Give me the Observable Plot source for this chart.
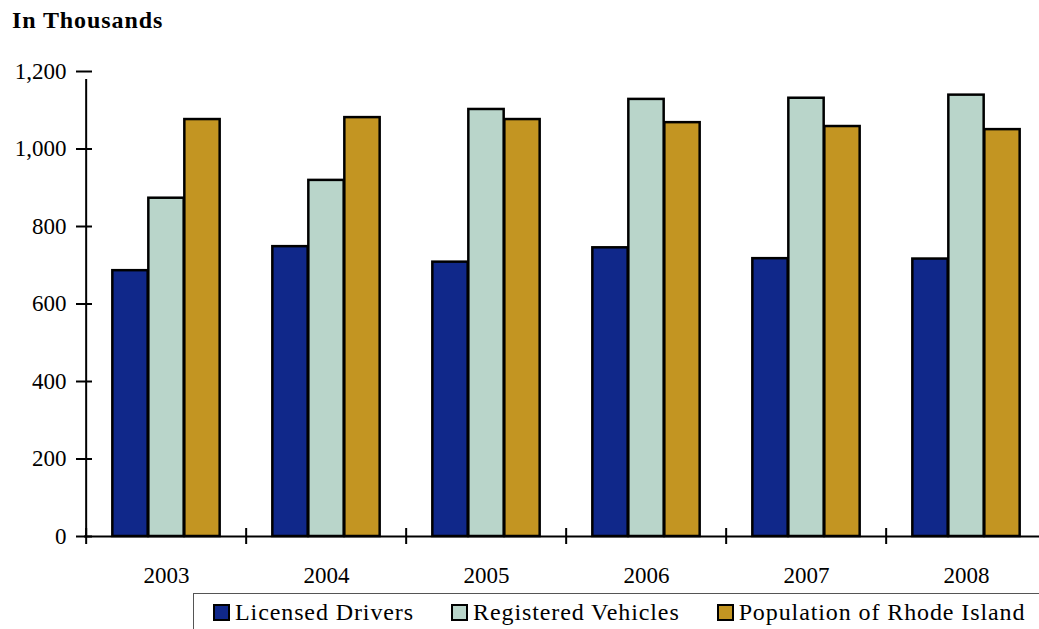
<!DOCTYPE html>
<html>
<head>
<meta charset="utf-8">
<script src="https://cdn.jsdelivr.net/npm/d3@7"></script>
<script src="https://cdn.jsdelivr.net/npm/@observablehq/plot@0.6"></script>
<style>
  html, body { margin: 0; padding: 0; background: #fff; overflow: hidden; width: 1039px; height: 629px; }
  #wrap { position: relative; width: 1039px; height: 629px; overflow: hidden; font-family: "Liberation Serif", serif; }
  #title { position: absolute; left: 12px; top: 7px; font-weight: bold; font-size: 24px; letter-spacing: 0.9px; color: #000; }
  #chart { position: absolute; left: 0; top: 0; width: 1060px; }
  #chart svg { max-width: none !important; }
  #legend { position: absolute; left: 193px; top: 593px; width: 900px; height: 50px; border: 1px solid #555; box-sizing: border-box; display: flex; align-items: flex-start; padding-top: 5px; padding-left: 19px; font-size: 24px; letter-spacing: 0.9px; }
  .item { display: flex; align-items: center; margin-right: 37px; white-space: nowrap; }
  .sw { width: 17px; height: 17px; border: 2.5px solid #000; margin-right: 5px; box-sizing: border-box; }
</style>
</head>
<body>
<div id="wrap">
  <div id="chart"></div>
  <div id="title">In Thousands</div>
  <div id="legend"></div>
</div>
<script>
const years = ["2003", "2004", "2005", "2006", "2007", "2008"];
const licensedDrivers = [686, 748, 708, 745, 717, 716];
const registeredVehicles = [873, 919, 1102, 1128, 1131, 1139];
const populationRI = [1076, 1081, 1076, 1068, 1058, 1050];
const seriesNames = ["Licensed Drivers", "Registered Vehicles", "Population of Rhode Island"];
const seriesColors = ["#10288a", "#b9d5ca", "#c39522"];
const yTicks = [0, 200, 400, 600, 800, 1000, 1200];

const seriesValues = [licensedDrivers, registeredVehicles, populationRI];
const rows = seriesValues.map(vals => years.map((y, i) => ({year: y, value: vals[i]})));

const width = 1060, height = 590;
const marginLeft = 84, marginRight = 12, marginTop = 71, marginBottom = 54;
const step = (width - marginLeft - marginRight) / years.length;
const barW = 36;
const inset = (step - barW) / 2;

const barMarks = rows.map((data, k) => Plot.barY(data, {
  x: "year", y: "value",
  fill: seriesColors[k], stroke: "#000", strokeWidth: 2.5,
  insetLeft: inset, insetRight: inset, dx: (k - 1) * barW
}));

const chart = Plot.plot({
  width, height, marginLeft, marginRight, marginTop, marginBottom,
  style: {fontFamily: "Liberation Serif, serif", fontSize: "23px", color: "#000", background: "transparent", maxWidth: "none"},
  x: {type: "band", domain: years, padding: 0, axis: null, label: null},
  y: {domain: [0, 1200], axis: null, label: null},
  marks: [
    ...barMarks,
    Plot.ruleY([0], {stroke: "#000", strokeWidth: 2}),
    Plot.ruleX([years[0]], {x: d => d, dx: -step / 2, y1: 0, y2: 1200, insetBottom: -8, stroke: "#000", strokeWidth: 2}),
    Plot.ruleX(years, {x: d => d, dx: -step / 2, y1: 0, y2: 0, insetTop: -8, insetBottom: -8, stroke: "#000", strokeWidth: 2}),
    Plot.axisY(yTicks, {tickSize: 16, dx: 8, tickFormat: () => "", strokeWidth: 2, stroke: "#000", label: null}),
    Plot.axisY(yTicks, {tickSize: 0, tickPadding: 18, tickFormat: d3.format(","), fontSize: 23, fill: "#000", label: null}),
    Plot.axisX(years, {x: d => d, tickSize: 0, tickPadding: 30, fontSize: 23, fill: "#000", label: null})
  ]
});
document.getElementById("chart").appendChild(chart);

const legend = document.getElementById("legend");
seriesNames.forEach((name, k) => {
  const item = document.createElement("div");
  item.className = "item";
  const sw = document.createElement("span");
  sw.className = "sw";
  sw.style.background = seriesColors[k];
  const label = document.createElement("span");
  label.textContent = name;
  item.appendChild(sw);
  item.appendChild(label);
  legend.appendChild(item);
});
</script>
</body>
</html>
